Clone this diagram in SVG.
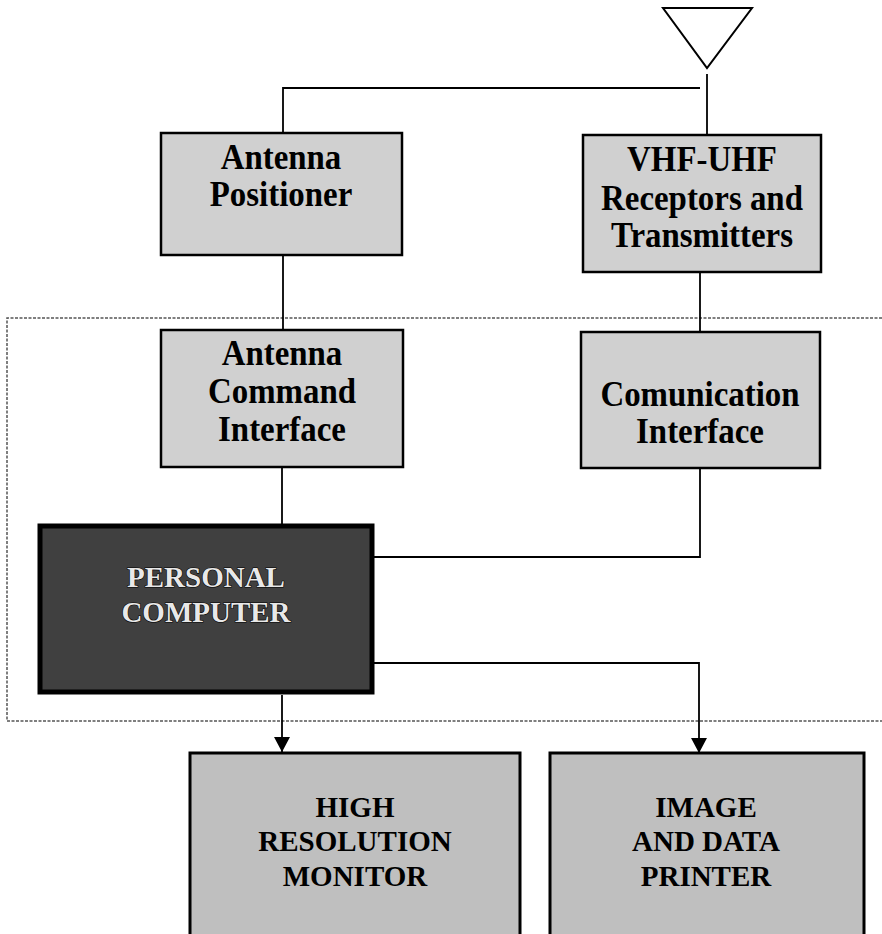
<svg xmlns="http://www.w3.org/2000/svg" width="882" height="934" viewBox="0 0 882 934">
<style>
.box{stroke:#000;stroke-width:2.5;fill:#d0d0d0}
.box2{stroke:#000;stroke-width:3;fill:#bfbfbf}
.pc{stroke:#000;stroke-width:5;fill:#404040}
.t{font-family:"Liberation Serif","Times New Roman",serif;font-weight:bold;font-size:35px;text-anchor:middle;fill:#000}
.tc{font-family:"Liberation Serif","Times New Roman",serif;font-weight:bold;font-size:29px;text-anchor:middle;fill:#000}
.tw{font-family:"Liberation Serif","Times New Roman",serif;font-weight:bold;font-size:29px;text-anchor:middle;fill:#e8e8e8;stroke:#000;stroke-width:1.2;paint-order:stroke}
.ln{stroke:#000;stroke-width:1.8;fill:none}
.dash{stroke:#555;stroke-width:1.5;fill:none;stroke-dasharray:3 1.5}
</style>
<defs>
<marker id="arrow" viewBox="0 0 15 16" refX="15" refY="8" markerWidth="15" markerHeight="16" markerUnits="userSpaceOnUse" orient="auto">
<path d="M0,0 L15,8 L0,16 Z" fill="#000"/>
</marker>
</defs>
<rect width="882" height="934" fill="#fff"/>

<g id="boundary">
<path class="dash" d="M882,318 H7 V721 H882"/>
</g>

<g id="connectors">
<path class="ln" d="M707,74 V135"/>
<path class="ln" d="M700,88 H283 V133"/>
<path class="ln" d="M283,256 V330"/>
<path class="ln" d="M700,272 V332"/>
<path class="ln" d="M282,467 V525"/>
<path class="ln" d="M700,468 V557 H374"/>
<path class="ln" d="M282,695 V752" marker-end="url(#arrow)"/>
<path class="ln" d="M374,663 H699 V753" marker-end="url(#arrow)"/>
</g>

<g id="antenna">
<path d="M663,8 L752,8 L707,68 Z" fill="none" stroke="#000" stroke-width="2"/>
</g>

<g id="antenna-positioner">
<rect class="box" x="161" y="133" width="241" height="122"/>
<g transform="translate(281,0) scale(0.94,1) translate(-281,0)">
<text class="t" x="281" y="169">Antenna</text>
<text class="t" x="281" y="206">Positioner</text>
</g>
</g>

<g id="vhf-uhf">
<rect class="box" x="583" y="135" width="238" height="137"/>
<g transform="translate(702,0) scale(0.94,1) translate(-702,0)">
<text class="t" x="702" y="171">VHF-UHF</text>
<text class="t" x="702" y="210">Receptors and</text>
<text class="t" x="702" y="247">Transmitters</text>
</g>
</g>

<g id="antenna-command-interface">
<rect class="box" x="161" y="330" width="242" height="137"/>
<g transform="translate(282,0) scale(0.94,1) translate(-282,0)">
<text class="t" x="282" y="365">Antenna</text>
<text class="t" x="282" y="403">Command</text>
<text class="t" x="282" y="441">Interface</text>
</g>
</g>

<g id="comunication-interface">
<rect class="box" x="581" y="332" width="239" height="136"/>
<g transform="translate(700,0) scale(0.94,1) translate(-700,0)">
<text class="t" x="700" y="406">Comunication</text>
<text class="t" x="700" y="443">Interface</text>
</g>
</g>

<g id="personal-computer">
<rect class="pc" x="40" y="526" width="332" height="166"/>
<text class="tw" x="206" y="587">PERSONAL</text>
<text class="tw" x="206" y="622">COMPUTER</text>
</g>

<g id="high-resolution-monitor">
<rect class="box2" x="190" y="753" width="330" height="190"/>
<text class="tc" x="355" y="817">HIGH</text>
<text class="tc" x="355" y="851">RESOLUTION</text>
<text class="tc" x="355" y="886">MONITOR</text>
</g>

<g id="image-data-printer">
<rect class="box2" x="550" y="753" width="314" height="190"/>
<text class="tc" x="706" y="817">IMAGE</text>
<text class="tc" x="706" y="851">AND DATA</text>
<text class="tc" x="706" y="886">PRINTER</text>
</g>
</svg>
